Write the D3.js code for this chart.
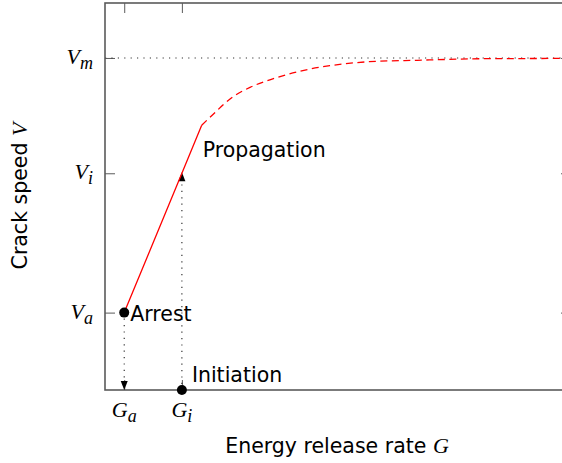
<!DOCTYPE html>
<html>
<head>
<meta charset="utf-8">
<script src="https://cdn.jsdelivr.net/npm/d3@7"></script>
<style>
  html, body { margin: 0; padding: 0; background: #fff; }
  svg { display: block; }
  .lbl { font-family: "DejaVu Sans", sans-serif; font-size: 20.5px; fill: #000; }
  .math { font-family: "Liberation Serif", "DejaVu Serif", serif; font-style: italic; fill: #000; }
</style>
</head>
<body>
<svg id="chart" width="562" height="463"></svg>
<script>
// Characteristic values on the energy release rate axis
const gNames = ["G", "G"];
const gSubs = ["a", "i"];
const gValues = [0.33, 1.32];

// Characteristic crack speeds
const vNames = ["V", "V", "V"];
const vSubs = ["a", "i", "m"];
const vValues = [1.0, 2.8, 4.29];

// Linear branch: arrest -> initiation -> end of linear regime
const linearG = [0.33, 1.32, 1.66];
const linearV = [1.0, 2.8, 3.42];

// Saturating branch approaching the limiting speed
const satG = [1.66, 1.84, 2.20, 2.49, 2.88, 3.35, 3.86, 4.50, 5.36, 6.49, 7.85, 8.0];
const satV = [3.42, 3.55, 3.79, 3.91, 4.02, 4.12, 4.19, 4.24, 4.26, 4.28, 4.285, 4.29];

const svg = d3.select("#chart");
const plotLeft = 105, plotRight = 571, plotTop = 3, plotBottom = 390;

const x = d3.scaleLinear().domain([0, 8]).range([plotLeft, plotRight]);
const y = d3.scaleLinear().domain([0, 5]).range([plotBottom, plotTop]);

const frameColor = "#5a5a5a";

// Ticks on all four sides, pointing inwards
function styleAxis(g) {
  g.select(".domain").remove();
  g.selectAll(".tick line").attr("stroke", frameColor).attr("stroke-width", 1);
  g.selectAll(".tick text").remove();
}
svg.append("g").attr("transform", `translate(${plotLeft},0)`)
  .call(d3.axisLeft(y).tickValues(vValues).tickSize(-10)).call(styleAxis);
svg.append("g").attr("transform", `translate(${plotRight},0)`)
  .call(d3.axisRight(y).tickValues(vValues).tickSize(-10)).call(styleAxis);
svg.append("g").attr("transform", `translate(0,${plotTop})`)
  .call(d3.axisTop(x).tickValues(gValues).tickSize(-10)).call(styleAxis);
svg.append("g").attr("transform", `translate(0,${plotBottom})`)
  .call(d3.axisBottom(x).tickValues(gValues).tickSize(-10)).call(styleAxis);

// Limiting speed guide
svg.append("line")
  .attr("x1", x(0)).attr("x2", x(8))
  .attr("y1", y(vValues[2])).attr("y2", y(vValues[2]))
  .attr("stroke", "#333").attr("stroke-width", 1.1)
  .attr("stroke-dasharray", "1.2,5.2");

// Frame
svg.append("rect")
  .attr("x", plotLeft).attr("y", plotTop)
  .attr("width", plotRight - plotLeft).attr("height", plotBottom - plotTop)
  .attr("fill", "none").attr("stroke", frameColor).attr("stroke-width", 1.6);

// Tick labels with subscripts
const yLab = svg.append("g");
vValues.forEach((v, i) => {
  const t = yLab.append("text").attr("class", "math")
    .attr("x", plotLeft - 12).attr("y", y(v) + 6)
    .attr("text-anchor", "end").attr("font-size", 22);
  t.append("tspan").text(vNames[i]);
  t.append("tspan").attr("font-size", 18).attr("dy", 5).text(vSubs[i]);
});
const xLab = svg.append("g");
gValues.forEach((g, i) => {
  const t = xLab.append("text").attr("class", "math")
    .attr("x", x(g)).attr("y", plotBottom + 27)
    .attr("text-anchor", "middle").attr("font-size", 22);
  t.append("tspan").text(gNames[i]);
  t.append("tspan").attr("font-size", 18).attr("dy", 5).text(gSubs[i]);
});

// Dotted projections with arrowheads
const dotStyle = sel => sel.attr("stroke", "#222").attr("stroke-width", 1.1)
  .attr("stroke-dasharray", "1.2,5.2");
svg.append("line").call(dotStyle)
  .attr("x1", x(gValues[0])).attr("x2", x(gValues[0]))
  .attr("y1", y(vValues[0]) + 6).attr("y2", plotBottom - 8);
svg.append("line").call(dotStyle)
  .attr("x1", x(gValues[1])).attr("x2", x(gValues[1]))
  .attr("y1", plotBottom - 6).attr("y2", y(vValues[1]) + 8);

function arrowHead(px, py, dir) {
  // dir = 1 points down, -1 points up; (px, py) is the tip
  const h = 9, w = 3.5;
  svg.append("path")
    .attr("d", `M${px},${py} L${px - w},${py - dir * h} L${px + w},${py - dir * h} Z`)
    .attr("fill", "#000");
}
arrowHead(x(gValues[0]), plotBottom, 1);
arrowHead(x(gValues[1]), y(vValues[1]) - 1, -1);

// Crack speed curve
const lineGen = d3.line().x(d => x(d[0])).y(d => y(d[1]));
svg.append("path")
  .datum(d3.zip(linearG, linearV))
  .attr("d", lineGen)
  .attr("fill", "none").attr("stroke", "#ff0000").attr("stroke-width", 1.3);
svg.append("path")
  .datum(d3.zip(satG, satV))
  .attr("d", lineGen.curve(d3.curveMonotoneX))
  .attr("fill", "none").attr("stroke", "#ff0000").attr("stroke-width", 1.3)
  .attr("stroke-dasharray", "7,4.5");

// Arrest and initiation points
svg.append("circle").attr("cx", x(gValues[0])).attr("cy", y(vValues[0])).attr("r", 5).attr("fill", "#000");
svg.append("circle").attr("cx", x(gValues[1])).attr("cy", y(0)).attr("r", 5).attr("fill", "#000");

// Annotations
svg.append("text").attr("class", "lbl").attr("x", x(gValues[0]) + 6).attr("y", y(vValues[0]) + 8).text("Arrest");
svg.append("text").attr("class", "lbl").attr("x", x(gValues[1]) + 10).attr("y", plotBottom - 8).text("Initiation");
svg.append("text").attr("class", "lbl").attr("x", x(linearG[2]) + 1).attr("y", y(linearV[2]) + 32).text("Propagation");

// Axis titles
const xt = svg.append("text").attr("class", "lbl")
  .attr("x", 337).attr("y", 453).attr("text-anchor", "middle");
xt.append("tspan").text("Energy release rate ");
xt.append("tspan").attr("class", "math").attr("font-size", 22).text("G");

const yt = svg.append("text").attr("class", "lbl")
  .attr("transform", "translate(27,196) rotate(-90)").attr("text-anchor", "middle");
yt.append("tspan").text("Crack speed ");
yt.append("tspan").attr("class", "math").attr("font-size", 22).text("V");
</script>
</body>
</html>
